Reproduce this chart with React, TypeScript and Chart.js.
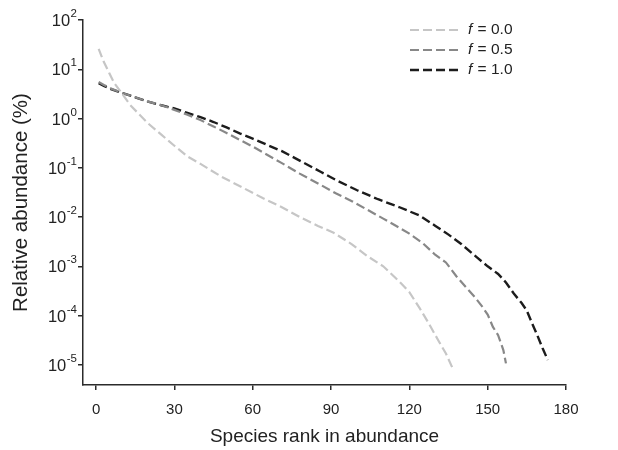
import { useEffect, useRef } from 'react';
import { Chart, registerables } from 'chart.js';

Chart.register(...registerables);

// f = 0.0
const ranksF00 = [1, 2, 3, 5, 7, 10, 13, 16, 20, 25, 30, 35, 40, 48, 56, 64, 71, 78, 85, 91, 98, 104, 110, 116, 120, 124, 127, 131, 134, 137];
const abundF00 = [26, 19, 14, 8.5, 5.2, 3.2, 1.9, 1.3, 0.79, 0.47, 0.28, 0.17, 0.12, 0.066, 0.04, 0.024, 0.016, 0.01, 0.0066, 0.0048, 0.0028, 0.0016, 0.001, 0.0005, 0.0003, 0.00014, 0.000076, 0.000032, 0.000017, 0.0000076];

// f = 0.5
const ranksF05 = [1, 3, 6, 10, 15, 20, 25, 30, 35, 40, 45, 50, 55, 60, 65, 71, 78, 86, 92, 98, 104, 110, 115, 120, 125, 130, 134, 138, 142, 145, 148, 150, 152, 154, 156, 157];
const abundF05 = [5.5, 4.8, 4.0, 3.3, 2.7, 2.2, 1.86, 1.5, 1.2, 0.93, 0.69, 0.51, 0.37, 0.27, 0.19, 0.126, 0.076, 0.045, 0.03, 0.021, 0.014, 0.0093, 0.0066, 0.0046, 0.003, 0.0017, 0.0012, 0.00063, 0.00036, 0.00024, 0.00015, 0.000105, 0.000059, 0.00004, 0.00002, 0.0000107];

// f = 1.0
const ranksF10 = [1, 3, 6, 10, 15, 20, 25, 30, 35, 40, 45, 50, 55, 60, 65, 71, 78, 86, 92, 100, 108, 116, 124, 130, 135, 140, 146, 150, 154, 157, 160, 163, 165, 167, 169, 171, 173];
const abundF10 = [5.2, 4.6, 3.9, 3.3, 2.7, 2.2, 1.86, 1.6, 1.3, 1.07, 0.85, 0.66, 0.5, 0.39, 0.3, 0.22, 0.14, 0.083, 0.056, 0.035, 0.023, 0.016, 0.0107, 0.0066, 0.0044, 0.0028, 0.0015, 0.001, 0.0007, 0.00047, 0.00028, 0.00018, 0.000126, 0.00007, 0.00004, 0.000022, 0.0000126];

const seriesLabels = ['0.0', '0.5', '1.0'];
const xTickValues = [0, 30, 60, 90, 120, 150, 180];
const yTickExponents = [2, 1, 0, -1, -2, -3, -4, -5];

const FONT = '"Liberation Sans", Arial, Helvetica, sans-serif';
const AXIS_COLOR = '#2b2b2b';
const TEXT_COLOR = '#222222';

export default function App() {
  const ref = useRef<HTMLCanvasElement | null>(null);

  useEffect(() => {
    if (!ref.current) return;

    const customText = {
      id: 'customText',
      afterDraw(chart: any) {
        const ctx = chart.ctx as CanvasRenderingContext2D;
        const yScale = chart.scales.y;
        ctx.save();
        ctx.fillStyle = TEXT_COLOR;
        ctx.textBaseline = 'middle';
        // y tick labels with superscript exponent
        for (const e of yTickExponents) {
          const py = yScale.getPixelForValue(Math.pow(10, e));
          const exp = String(e);
          ctx.font = `11.5px ${FONT}`;
          const ew = ctx.measureText(exp).width;
          const right = yScale.right - 6;
          ctx.textAlign = 'left';
          ctx.fillText(exp, right - ew, py - 6);
          ctx.font = `16.5px ${FONT}`;
          ctx.textAlign = 'right';
          ctx.fillText('10', right - ew - 0.5, py + 1.5);
        }
        // legend
        const x0 = 410;
        const x1 = 458;
        const tx = 468;
        const rowY = [30, 50, 70];
        chart.data.datasets.forEach((ds: any, i: number) => {
          const y = rowY[i];
          ctx.save();
          ctx.strokeStyle = ds.borderColor;
          ctx.lineWidth = ds.borderWidth;
          ctx.setLineDash(ds.borderDash);
          ctx.beginPath();
          ctx.moveTo(x0, y);
          ctx.lineTo(x1, y);
          ctx.stroke();
          ctx.restore();
          ctx.textAlign = 'left';
          ctx.font = `italic 15.5px ${FONT}`;
          ctx.fillText('f', tx, y);
          const fw = ctx.measureText('f').width;
          ctx.font = `15.5px ${FONT}`;
          ctx.fillText(' = ' + seriesLabels[i], tx + fw + 1, y);
        });
        ctx.restore();
      },
    };

    const chart = new Chart(ref.current, {
      type: 'line',
      data: {
        datasets: [
          {
            label: 'f = ' + seriesLabels[0],
            data: ranksF00.map((r, i) => ({ x: r, y: abundF00[i] })),
            borderColor: '#c6c6c6',
            borderWidth: 2.2,
            borderDash: [9, 4],
            pointRadius: 0,
            fill: false,
            tension: 0,
          },
          {
            label: 'f = ' + seriesLabels[1],
            data: ranksF05.map((r, i) => ({ x: r, y: abundF05[i] })),
            borderColor: '#888888',
            borderWidth: 2.2,
            borderDash: [9, 4],
            pointRadius: 0,
            fill: false,
            tension: 0,
          },
          {
            label: 'f = ' + seriesLabels[2],
            data: ranksF10.map((r, i) => ({ x: r, y: abundF10[i] })),
            borderColor: '#1c1c1c',
            borderWidth: 2.4,
            borderDash: [9, 4],
            pointRadius: 0,
            fill: false,
            tension: 0,
          },
        ],
      },
      options: {
        responsive: false,
        animation: false,
        devicePixelRatio: 1,
        layout: { padding: { top: 20, right: 52, left: 0, bottom: 0 } },
        plugins: {
          legend: { display: false },
          tooltip: { enabled: false },
        },
        scales: {
          x: {
            type: 'linear',
            min: -5,
            max: 180,
            afterBuildTicks: (s: any) => {
              s.ticks = xTickValues.map((v) => ({ value: v }));
            },
            afterFit: (s: any) => {
              s.height = 65;
            },
            grid: {
              display: true,
              drawOnChartArea: false,
              drawTicks: true,
              tickLength: 5,
              color: AXIS_COLOR,
              lineWidth: 1.5,
            },
            border: { display: true, color: AXIS_COLOR, width: 1.5 },
            ticks: {
              color: TEXT_COLOR,
              font: { family: FONT, size: 15 },
              padding: 11,
              maxRotation: 0,
            },
            title: {
              display: true,
              text: 'Species rank in abundance',
              color: TEXT_COLOR,
              font: { family: FONT, size: 19 },
              padding: { top: 0, bottom: 2 },
            },
          },
          y: {
            type: 'logarithmic',
            min: 3.9e-6,
            max: 100,
            afterBuildTicks: (s: any) => {
              s.ticks = yTickExponents.map((e) => ({ value: Math.pow(10, e) }));
            },
            afterFit: (s: any) => {
              s.width = 83;
            },
            grid: {
              display: true,
              drawOnChartArea: false,
              drawTicks: true,
              tickLength: 5,
              color: AXIS_COLOR,
              lineWidth: 1.5,
            },
            border: { display: true, color: AXIS_COLOR, width: 1.5 },
            ticks: { display: false },
            title: {
              display: true,
              text: 'Relative abundance (%)',
              color: TEXT_COLOR,
              font: { family: FONT, size: 20.5 },
              padding: { top: 9, bottom: 0 },
            },
          },
        },
      },
      plugins: [customText],
    });

    return () => chart.destroy();
  }, []);

  return (
    <div style={{ position: 'fixed', top: 0, left: 0, width: 618, height: 450 }}>
      <canvas ref={ref} width={618} height={450} style={{ display: 'block' }} />
    </div>
  );
}
